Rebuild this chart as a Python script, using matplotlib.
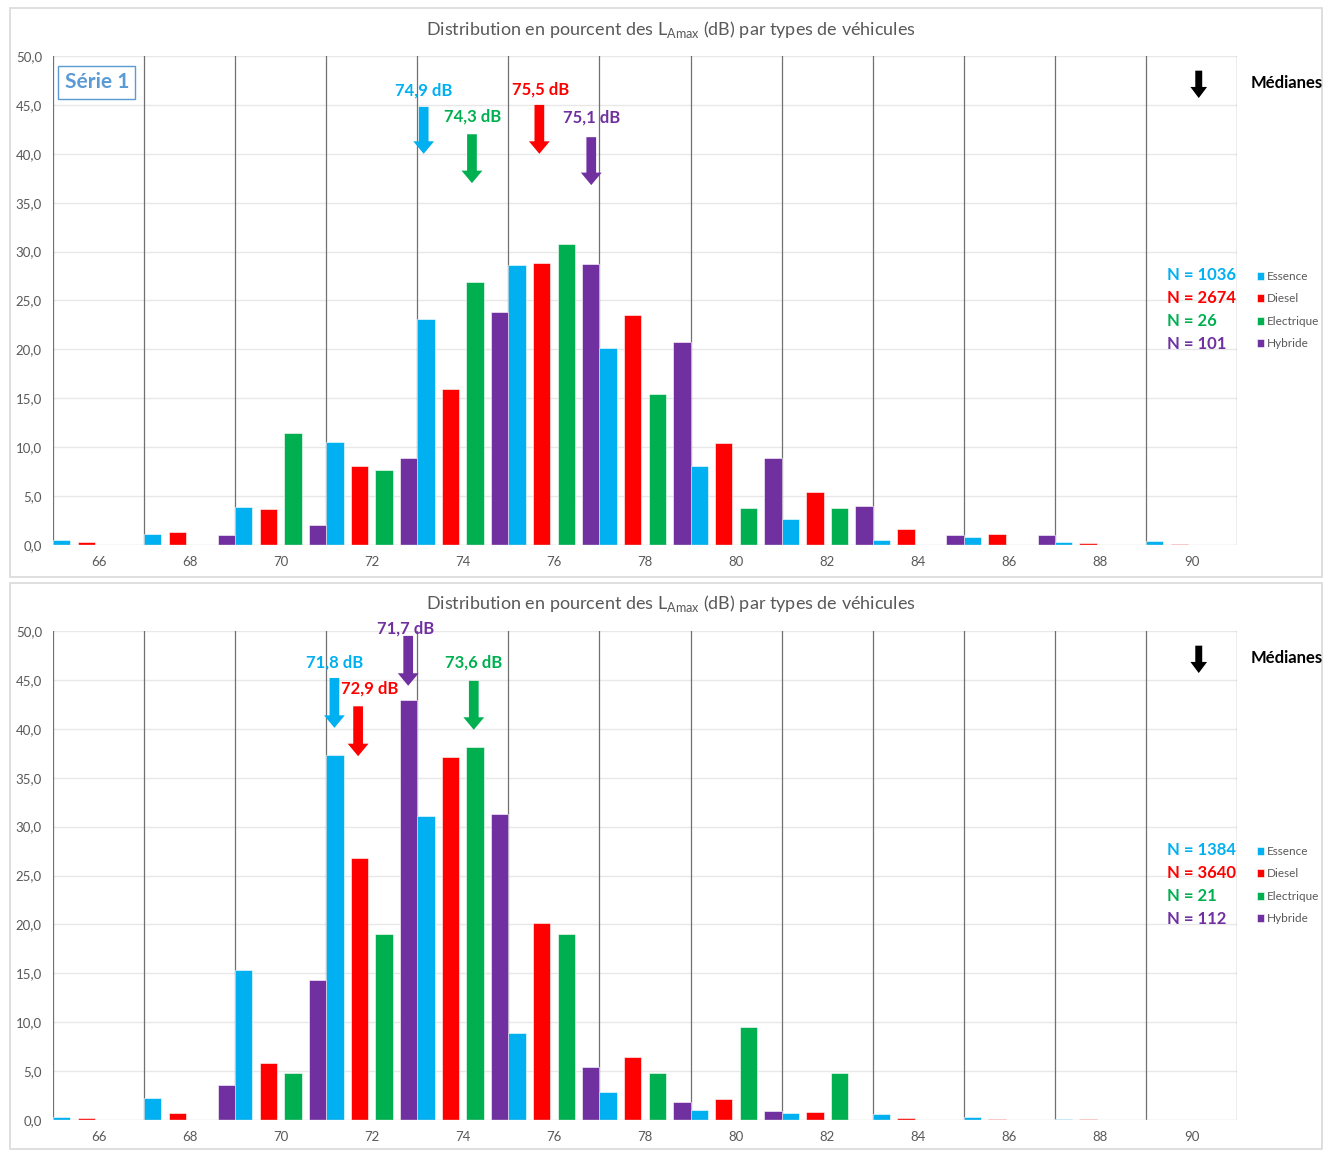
import numpy as np
import matplotlib
matplotlib.use("Agg")
from matplotlib import pyplot as plt
from matplotlib.patches import Rectangle

plt.rcParams['font.family'] = ['Lato', 'DejaVu Sans']

niveaux = [66, 68, 70, 72, 74, 76, 78, 80, 82, 84, 86, 88, 90]
types = ["Essence", "Diesel", "Electrique", "Hybride"]
couleurs = ["#00b0f0", "#ff0000", "#00b050", "#7030a0"]

# Série 1 (haut)
essence_1 = [0.5, 1.1, 3.9, 10.5, 23.1, 28.6, 20.1, 8.1, 2.7, 0.5, 0.8, 0.3, 0.4]
diesel_1 = [0.3, 1.3, 3.7, 8.1, 16.0, 28.8, 23.5, 10.4, 5.4, 1.6, 1.1, 0.2, 0.1]
electrique_1 = [0, 0, 11.5, 7.7, 26.9, 30.8, 15.4, 3.8, 3.8, 0, 0, 0, 0]
hybride_1 = [0, 1.0, 2.0, 8.9, 23.8, 28.7, 20.8, 8.9, 4.0, 1.0, 1.0, 0, 0]
effectifs_1 = [1036, 2674, 26, 101]
medianes_1 = ["74,9", "75,5", "74,3", "75,1"]

# deuxième série (bas)
essence_2 = [0.3, 2.2, 15.3, 37.3, 31.1, 8.9, 2.9, 1.0, 0.7, 0.6, 0.3, 0.1, 0]
diesel_2 = [0.2, 0.7, 5.8, 26.8, 37.1, 20.1, 6.4, 2.1, 0.8, 0.2, 0.1, 0.1, 0]
electrique_2 = [0, 0, 4.8, 19.0, 38.1, 19.0, 4.8, 9.5, 4.8, 0, 0, 0, 0]
hybride_2 = [0, 3.6, 14.3, 42.9, 31.3, 5.4, 1.8, 0.9, 0, 0, 0, 0, 0]
effectifs_2 = [1384, 3640, 21, 112]
medianes_2 = ["71,8", "72,9", "73,6", "71,7"]

# flèches des médianes : (x flèche, queue, pointe, x texte, y texte)
fleches_1 = [(3.57, 44.8, 40.0, 3.57, 46.5), (4.84, 45.0, 40.0, 4.85, 46.6),
             (4.10, 42.0, 37.0, 4.11, 43.8), (5.41, 41.7, 36.8, 5.41, 43.7)]
fleches_2 = [(2.59, 45.2, 40.1, 2.59, 46.8), (2.85, 42.3, 37.2, 2.98, 44.1),
             (4.12, 44.9, 39.9, 4.12, 46.8), (3.40, 49.5, 44.4, 3.37, 50.3)]

W, H = 1323, 1150
fig = plt.figure(figsize=(W / 100, H / 100), dpi=100)

largeur = 0.19
pas = (1 - largeur) / 3
gris = "#595959"


def fx(px):
    return px / W


def fy(py):
    return 1 - py / H


def panneau(top_px, series, effectifs, medianes, fleches, cadre, serie1=False):
    # cadre de la zone de graphique
    fig.patches.append(Rectangle((fx(10), fy(cadre[1])), fx(1312), cadre[1] / H - cadre[0] / H,
                                 transform=fig.transFigure, fill=False,
                                 edgecolor="#d9d9d9", lw=1.2))
    ax = fig.add_axes([fx(53), fy(top_px + 489), fx(1184), 489 / H])
    x = np.arange(len(niveaux))
    for k, (vals, c) in enumerate(zip(series, couleurs)):
        ax.bar(x - 0.5 + k * pas, vals, largeur, align="edge", color=c,
               edgecolor="white", linewidth=0.4, label=types[k], zorder=3)
    ax.set_xlim(-0.5, len(niveaux) - 0.5)
    ax.set_ylim(0, 50)
    ax.set_yticks(np.arange(0, 51, 5))
    ax.set_yticklabels([f"{v:.1f}".replace(".", ",") for v in np.arange(0, 51, 5)])
    ax.set_xticks(x)
    ax.set_xticklabels([str(n) for n in niveaux])
    ax.tick_params(length=0, colors=gris, labelsize=9.5, pad=8)
    for s in ax.spines.values():
        s.set_visible(False)
    for yv in np.arange(5, 51, 5):
        ax.axhline(yv, color="#e8e8e8", lw=1, zorder=1)
    ax.axhline(0, color="#d9d9d9", lw=1, zorder=4)
    for xv in np.arange(-0.5, len(niveaux), 1):
        ax.axvline(xv, color="#707070", lw=0.9, zorder=2)

    fig.text(fx(671), fy(top_px - 27), r"Distribution en pourcent des L$_{\mathregular{Amax}}$ (dB) par types de véhicules",
             ha="center", va="center", color=gris, fontsize=13)

    for (xa, queue, pointe, xt, yt), med, c in zip(fleches, medianes, couleurs):
        ax.annotate("", xy=(xa, pointe), xytext=(xa, queue),
                    arrowprops=dict(width=7, headwidth=15, headlength=9, color=c, lw=0),
                    annotation_clip=False, zorder=6)
        ax.text(xt, yt, f"{med} dB", ha="center", va="center", color=c,
                fontsize=12, fontweight="bold", clip_on=False, zorder=6)

    # repère "Médianes"
    ax.annotate("", xy=(12.08, 45.7), xytext=(12.08, 48.5),
                arrowprops=dict(width=5, headwidth=12, headlength=8, color="black", lw=0),
                annotation_clip=False)
    fig.text(fx(1251), fy(top_px + 27), "Médianes", ha="left", va="center",
             fontsize=12, fontweight="bold", color="black")

    for k, (n, c) in enumerate(zip(effectifs, couleurs)):
        fig.text(fx(1167), fy(top_px + 219 + 23 * k), f"N = {n}", ha="left", va="center",
                 color=c, fontsize=12, fontweight="bold")
    fig.legend(*ax.get_legend_handles_labels(), loc="upper left",
               bbox_to_anchor=(fx(1252), fy(top_px + 210)), frameon=False,
               fontsize=8.5, handlelength=0.65, handleheight=0.65, handletextpad=0.25,
               labelspacing=0.98, borderaxespad=0, labelcolor=gris)

    if serie1:
        ax.text(-0.02, 47.3, "Série 1", ha="center", va="center", color="#5b9bd5",
                fontsize=15, fontweight="bold", zorder=7,
                bbox=dict(boxstyle="square,pad=0.3", facecolor="white",
                          edgecolor="#5b9bd5", lw=1))
    return ax


panneau(56, [essence_1, diesel_1, electrique_1, hybride_1], effectifs_1, medianes_1,
        fleches_1, (8, 577), serie1=True)
panneau(631, [essence_2, diesel_2, electrique_2, hybride_2], effectifs_2, medianes_2,
        fleches_2, (583, 1149))

fig.savefig("out.png", dpi=100)
